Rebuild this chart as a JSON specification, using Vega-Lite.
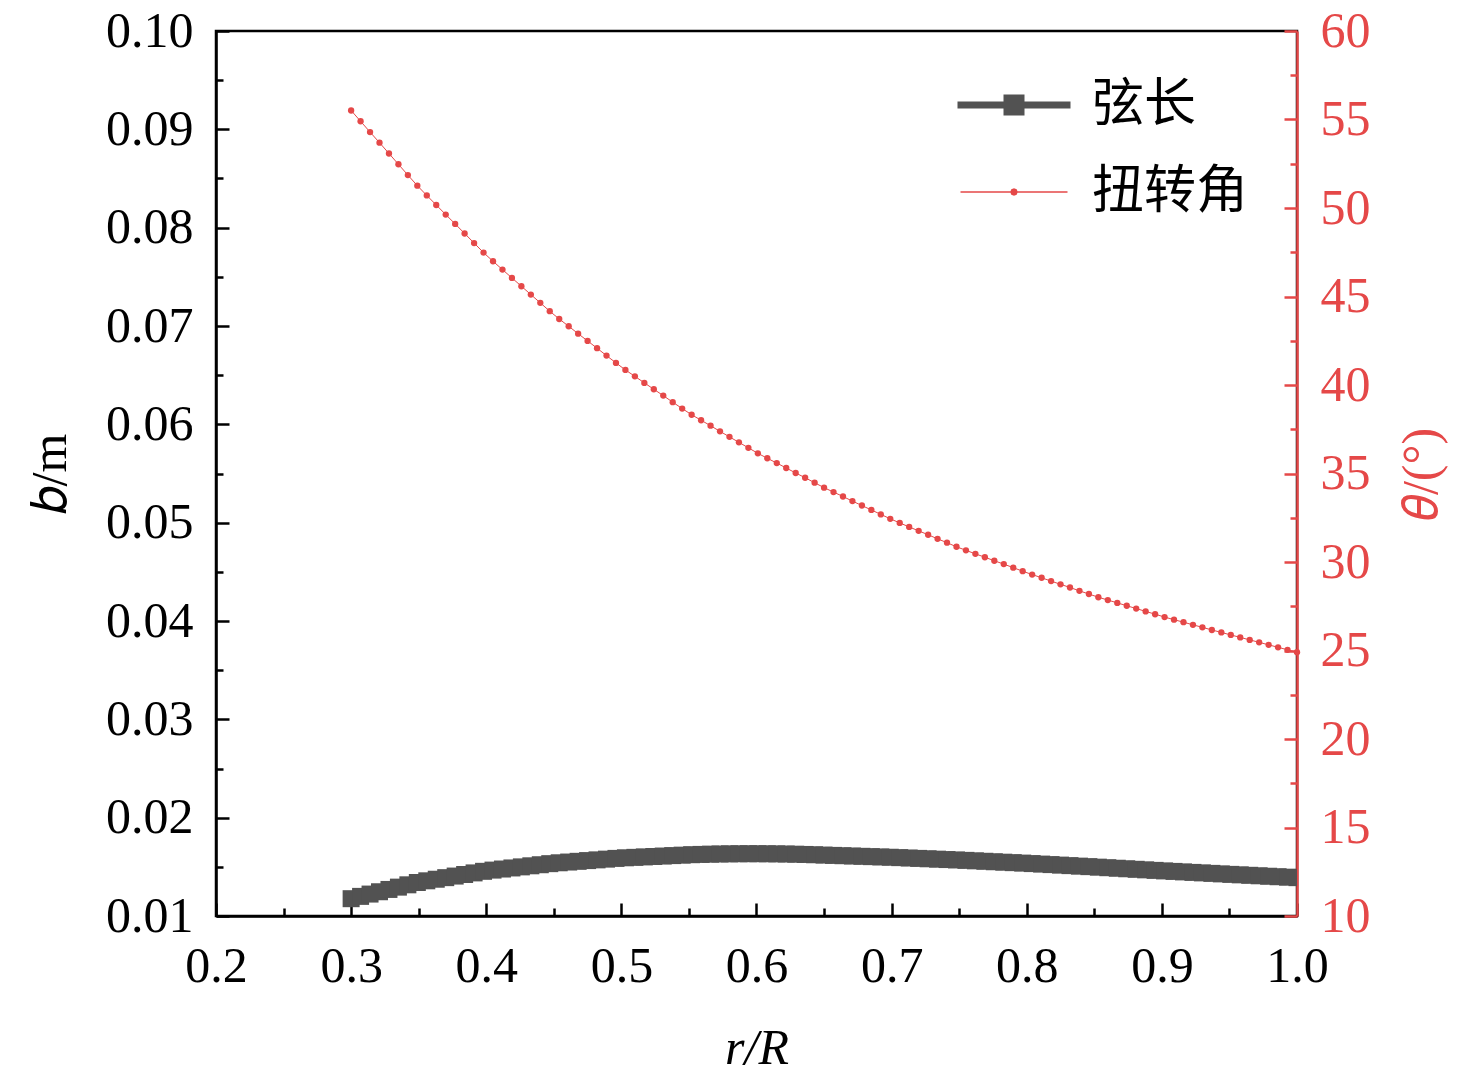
{
  "$schema": "https://vega.github.io/schema/vega-lite/v6.json",
  "width": 1081,
  "height": 885,
  "autosize": "none",
  "padding": {"left": 216, "top": 31, "right": 179, "bottom": 170},
  "background": "white",
  "data": {
    "values": [
      {"r": 0.300, "b": 0.011760, "theta": 55.51},
      {"r": 0.307, "b": 0.011995, "theta": 54.90},
      {"r": 0.314, "b": 0.012230, "theta": 54.29},
      {"r": 0.321, "b": 0.012466, "theta": 53.69},
      {"r": 0.328, "b": 0.012701, "theta": 53.08},
      {"r": 0.335, "b": 0.012936, "theta": 52.47},
      {"r": 0.342, "b": 0.013171, "theta": 51.86},
      {"r": 0.349, "b": 0.013406, "theta": 51.26},
      {"r": 0.356, "b": 0.013578, "theta": 50.71},
      {"r": 0.363, "b": 0.013739, "theta": 50.17},
      {"r": 0.370, "b": 0.013900, "theta": 49.63},
      {"r": 0.377, "b": 0.014061, "theta": 49.10},
      {"r": 0.384, "b": 0.014222, "theta": 48.56},
      {"r": 0.391, "b": 0.014383, "theta": 48.02},
      {"r": 0.398, "b": 0.014544, "theta": 47.48},
      {"r": 0.405, "b": 0.014668, "theta": 46.99},
      {"r": 0.412, "b": 0.014777, "theta": 46.52},
      {"r": 0.419, "b": 0.014886, "theta": 46.05},
      {"r": 0.426, "b": 0.014996, "theta": 45.58},
      {"r": 0.433, "b": 0.015105, "theta": 45.11},
      {"r": 0.440, "b": 0.015214, "theta": 44.64},
      {"r": 0.447, "b": 0.015323, "theta": 44.17},
      {"r": 0.454, "b": 0.015412, "theta": 43.73},
      {"r": 0.461, "b": 0.015487, "theta": 43.32},
      {"r": 0.468, "b": 0.015561, "theta": 42.90},
      {"r": 0.475, "b": 0.015635, "theta": 42.49},
      {"r": 0.482, "b": 0.015709, "theta": 42.08},
      {"r": 0.489, "b": 0.015783, "theta": 41.66},
      {"r": 0.496, "b": 0.015858, "theta": 41.25},
      {"r": 0.503, "b": 0.015919, "theta": 40.85},
      {"r": 0.510, "b": 0.015964, "theta": 40.49},
      {"r": 0.517, "b": 0.016009, "theta": 40.12},
      {"r": 0.524, "b": 0.016054, "theta": 39.76},
      {"r": 0.531, "b": 0.016098, "theta": 39.40},
      {"r": 0.538, "b": 0.016143, "theta": 39.03},
      {"r": 0.545, "b": 0.016188, "theta": 38.67},
      {"r": 0.552, "b": 0.016234, "theta": 38.32},
      {"r": 0.559, "b": 0.016263, "theta": 38.01},
      {"r": 0.566, "b": 0.016287, "theta": 37.70},
      {"r": 0.573, "b": 0.016306, "theta": 37.38},
      {"r": 0.580, "b": 0.016321, "theta": 37.07},
      {"r": 0.587, "b": 0.016330, "theta": 36.76},
      {"r": 0.594, "b": 0.016335, "theta": 36.45},
      {"r": 0.601, "b": 0.016334, "theta": 36.14},
      {"r": 0.608, "b": 0.016329, "theta": 35.86},
      {"r": 0.615, "b": 0.016319, "theta": 35.59},
      {"r": 0.622, "b": 0.016304, "theta": 35.31},
      {"r": 0.629, "b": 0.016284, "theta": 35.03},
      {"r": 0.636, "b": 0.016259, "theta": 34.76},
      {"r": 0.643, "b": 0.016229, "theta": 34.48},
      {"r": 0.650, "b": 0.016195, "theta": 34.20},
      {"r": 0.657, "b": 0.016163, "theta": 33.95},
      {"r": 0.664, "b": 0.016132, "theta": 33.70},
      {"r": 0.671, "b": 0.016100, "theta": 33.44},
      {"r": 0.678, "b": 0.016069, "theta": 33.19},
      {"r": 0.685, "b": 0.016037, "theta": 32.94},
      {"r": 0.692, "b": 0.016006, "theta": 32.69},
      {"r": 0.699, "b": 0.015975, "theta": 32.44},
      {"r": 0.706, "b": 0.015936, "theta": 32.21},
      {"r": 0.713, "b": 0.015897, "theta": 31.98},
      {"r": 0.720, "b": 0.015858, "theta": 31.76},
      {"r": 0.727, "b": 0.015819, "theta": 31.54},
      {"r": 0.734, "b": 0.015780, "theta": 31.31},
      {"r": 0.741, "b": 0.015740, "theta": 31.09},
      {"r": 0.748, "b": 0.015701, "theta": 30.86},
      {"r": 0.755, "b": 0.015657, "theta": 30.66},
      {"r": 0.762, "b": 0.015611, "theta": 30.46},
      {"r": 0.769, "b": 0.015565, "theta": 30.27},
      {"r": 0.776, "b": 0.015518, "theta": 30.07},
      {"r": 0.783, "b": 0.015472, "theta": 29.88},
      {"r": 0.790, "b": 0.015426, "theta": 29.68},
      {"r": 0.797, "b": 0.015380, "theta": 29.48},
      {"r": 0.804, "b": 0.015330, "theta": 29.29},
      {"r": 0.811, "b": 0.015279, "theta": 29.11},
      {"r": 0.818, "b": 0.015227, "theta": 28.92},
      {"r": 0.825, "b": 0.015175, "theta": 28.74},
      {"r": 0.832, "b": 0.015123, "theta": 28.56},
      {"r": 0.839, "b": 0.015071, "theta": 28.37},
      {"r": 0.846, "b": 0.015020, "theta": 28.19},
      {"r": 0.853, "b": 0.014967, "theta": 28.01},
      {"r": 0.860, "b": 0.014912, "theta": 27.85},
      {"r": 0.867, "b": 0.014857, "theta": 27.69},
      {"r": 0.874, "b": 0.014803, "theta": 27.53},
      {"r": 0.881, "b": 0.014748, "theta": 27.37},
      {"r": 0.888, "b": 0.014694, "theta": 27.21},
      {"r": 0.895, "b": 0.014639, "theta": 27.05},
      {"r": 0.902, "b": 0.014586, "theta": 26.89},
      {"r": 0.909, "b": 0.014535, "theta": 26.74},
      {"r": 0.916, "b": 0.014485, "theta": 26.60},
      {"r": 0.923, "b": 0.014434, "theta": 26.45},
      {"r": 0.930, "b": 0.014384, "theta": 26.31},
      {"r": 0.937, "b": 0.014334, "theta": 26.16},
      {"r": 0.944, "b": 0.014283, "theta": 26.02},
      {"r": 0.951, "b": 0.014233, "theta": 25.88},
      {"r": 0.958, "b": 0.014186, "theta": 25.74},
      {"r": 0.965, "b": 0.014138, "theta": 25.60},
      {"r": 0.972, "b": 0.014090, "theta": 25.46},
      {"r": 0.979, "b": 0.014043, "theta": 25.32},
      {"r": 0.986, "b": 0.013995, "theta": 25.18},
      {"r": 0.993, "b": 0.013948, "theta": 25.04},
      {"r": 1.000, "b": 0.013900, "theta": 24.90}
    ]
  },
  "layer": [
    {
      "layer": [
        {
          "mark": {"type": "point", "shape": "square", "filled": true, "size": 289, "opacity": 1, "color": "#525252", "clip": true},
          "encoding": {
            "x": {
              "field": "r", "type": "quantitative",
              "scale": {"domain": [0.2, 1.0], "zero": false, "nice": false},
              "axis": {
                "orient": "bottom",
                "values": [0.2, 0.3, 0.4, 0.5, 0.6, 0.7, 0.8, 0.9, 1.0],
                "format": ".1f", "tickSize": -13, "labelPadding": 38,
                "labelFlush": false, "labelOverlap": false,
                "title": "r/R", "titleFontStyle": "italic", "titlePadding": 32
              }
            },
            "y": {
              "field": "b", "type": "quantitative",
              "scale": {"domain": [0.01, 0.10], "zero": false, "nice": false},
              "axis": {
                "orient": "left",
                "values": [0.01, 0.02, 0.03, 0.04, 0.05, 0.06, 0.07, 0.08, 0.09, 0.10],
                "format": ".2f", "tickSize": -13, "labelPadding": 36,
                "labelOverlap": false,
                "title": "𝑏/m", "titlePadding": 30
              }
            }
          }
        },
        {
          "mark": {"type": "point", "opacity": 0},
          "encoding": {
            "x": {
              "field": "r", "type": "quantitative",
              "scale": {"domain": [0.2, 1.0], "zero": false, "nice": false},
              "axis": {
                "orient": "bottom",
                "values": [0.25, 0.35, 0.45, 0.55, 0.65, 0.75, 0.85, 0.95],
                "tickSize": -8, "labels": false, "domain": false, "title": null
              }
            },
            "y": {
              "field": "b", "type": "quantitative",
              "scale": {"domain": [0.01, 0.10], "zero": false, "nice": false},
              "axis": {
                "orient": "left",
                "values": [0.015, 0.025, 0.035, 0.045, 0.055, 0.065, 0.075, 0.085, 0.095],
                "tickSize": -7, "labels": false, "domain": false, "title": null
              }
            }
          }
        }
      ],
      "resolve": {"axis": {"x": "independent", "y": "independent"}}
    },
    {
      "layer": [
        {
          "mark": {
            "type": "line", "color": "#E54848", "strokeWidth": 1,
            "point": {"filled": true, "size": 40, "color": "#E54848", "opacity": 1}
          },
          "encoding": {
            "x": {
              "field": "r", "type": "quantitative",
              "scale": {"domain": [0.2, 1.0], "zero": false, "nice": false},
              "axis": null
            },
            "y": {
              "field": "theta", "type": "quantitative",
              "scale": {"domain": [10, 60], "zero": false, "nice": false},
              "axis": {
                "orient": "right",
                "values": [10, 15, 20, 25, 30, 35, 40, 45, 50, 55, 60],
                "format": "d", "tickSize": -13, "labelPadding": 36,
                "labelOverlap": false,
                "domainColor": "#E54848", "tickColor": "#E54848",
                "labelColor": "#E54848", "titleColor": "#E54848",
                "title": "𝜃/(°)", "titleAngle": 270, "titleBaseline": "top", "titlePadding": 26
              }
            }
          }
        },
        {
          "mark": {"type": "point", "opacity": 0},
          "encoding": {
            "x": {
              "field": "r", "type": "quantitative",
              "scale": {"domain": [0.2, 1.0], "zero": false, "nice": false},
              "axis": null
            },
            "y": {
              "field": "theta", "type": "quantitative",
              "scale": {"domain": [10, 60], "zero": false, "nice": false},
              "axis": {
                "orient": "right",
                "values": [12.5, 17.5, 22.5, 27.5, 32.5, 37.5, 42.5, 47.5, 52.5, 57.5],
                "tickSize": -7, "labels": false, "domain": false, "title": null,
                "tickColor": "#E54848"
              }
            }
          }
        }
      ],
      "resolve": {"axis": {"y": "independent"}}
    },
    {
      "data": {"values": [{"series": "弦长"}, {"series": "扭转角"}]},
      "mark": {"type": "point", "filled": true, "opacity": 0},
      "encoding": {
        "color": {
          "field": "series", "type": "nominal",
          "scale": {"domain": ["弦长", "扭转角"], "range": ["#525252", "#E54848"]},
          "legend": {
            "orient": "none", "legendX": 772, "legendY": 48, "title": null,
            "labelFont": "Noto Sans CJK SC", "labelFontSize": 52, "labelColor": "black",
            "labelOffset": 52, "labelLimit": 400, "rowPadding": 35, "padding": 0,
            "symbolSize": 400, "symbolStrokeWidth": 0, "symbolOpacity": 1
          }
        },
        "shape": {
          "field": "series", "type": "nominal",
          "scale": {
            "domain": ["弦长", "扭转角"],
            "range": [
              "M-5.65,-0.35L5.65,-0.35L5.65,0.35L-5.65,0.35Z M-1.05,-1.05L1.05,-1.05L1.05,1.05L-1.05,1.05Z",
              "M-5.35,-0.075L5.35,-0.075L5.35,0.075L-5.35,0.075Z M0.38,0L0.27,0.27L0,0.38L-0.27,0.27L-0.38,0L-0.27,-0.27L0,-0.38L0.27,-0.27Z"
            ]
          },
          "legend": {
            "orient": "none", "legendX": 772, "legendY": 48, "title": null,
            "labelFont": "Noto Sans CJK SC", "labelFontSize": 52, "labelColor": "black",
            "labelOffset": 52, "labelLimit": 400, "rowPadding": 35, "padding": 0,
            "symbolSize": 400, "symbolStrokeWidth": 0, "symbolOpacity": 1
          }
        }
      }
    }
  ],
  "resolve": {"scale": {"y": "independent"}},
  "config": {
    "view": {"stroke": "black", "strokeWidth": 2.5},
    "axis": {
      "labelFont": "Liberation Serif", "labelFontSize": 50, "labelColor": "black",
      "titleFont": "Liberation Serif", "titleFontSize": 50, "titleFontWeight": "normal", "titleColor": "black",
      "grid": false, "domainWidth": 2.5, "domainColor": "black",
      "tickWidth": 2.5, "tickColor": "black"
    }
  }
}
